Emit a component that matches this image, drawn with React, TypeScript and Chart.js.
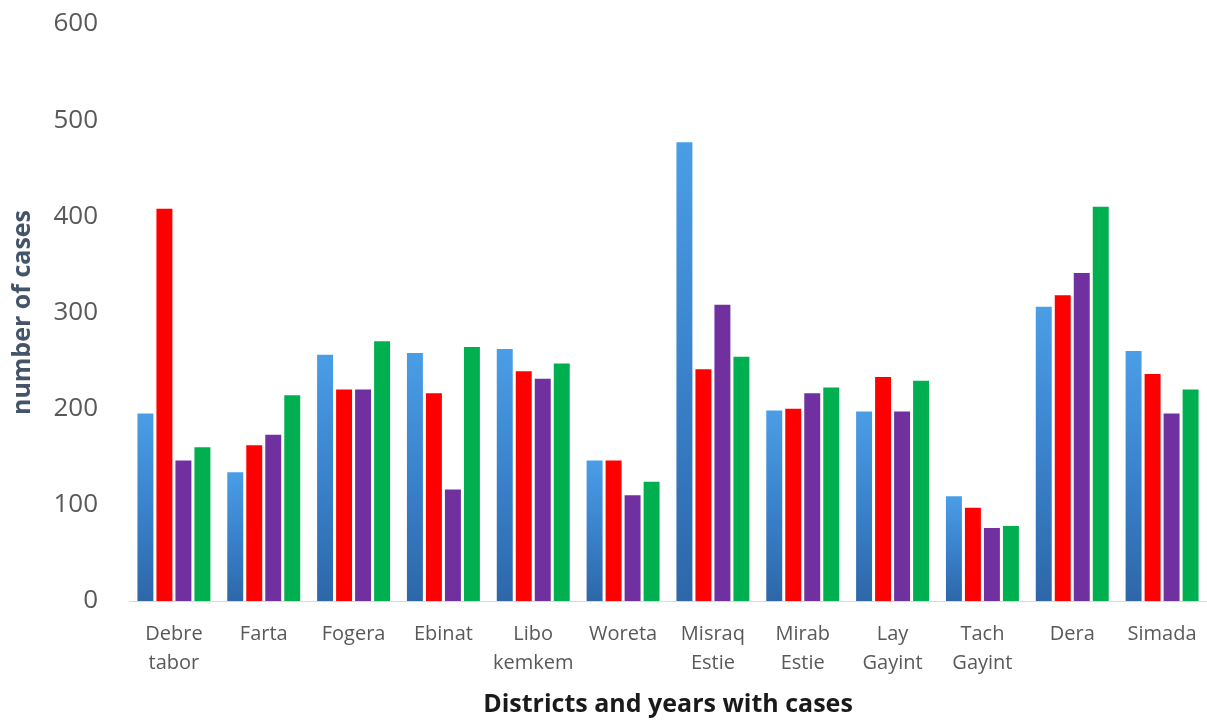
import React, { useEffect, useRef } from "react";
import { Chart, registerables } from "chart.js";

Chart.register(...registerables);

// District names (multi-word names wrap onto two lines)
const districts: string[][] = [
  ["Debre", "tabor"],
  ["Farta"],
  ["Fogera"],
  ["Ebinat"],
  ["Libo", "kemkem"],
  ["Woreta"],
  ["Misraq", "Estie"],
  ["Mirab", "Estie"],
  ["Lay", "Gayint"],
  ["Tach", "Gayint"],
  ["Dera"],
  ["Simada"],
];

// Cases per district, one series per year
const year1: number[] = [195, 134, 256, 258, 262, 146, 477, 198, 197, 109, 306, 260];
const year2: number[] = [408, 162, 220, 216, 239, 146, 241, 200, 233, 97, 318, 236];
const year3: number[] = [146, 173, 220, 116, 231, 110, 308, 216, 197, 76, 341, 195];
const year4: number[] = [160, 214, 270, 264, 247, 124, 254, 222, 229, 78, 410, 220];

const yTicks: number[] = [0, 100, 200, 300, 400, 500, 600];

const FONT = "'Open Sans', 'Noto Sans', sans-serif";

// Blue bars fade from a lighter top to a deeper base
function blueGradient(ctx: any) {
  const chart = ctx.chart;
  const area = chart.chartArea;
  const y = chart.scales?.y;
  if (!area || !y || ctx.raw === undefined) return "#3b85cf";
  const top = y.getPixelForValue(ctx.raw);
  const bottom = y.getPixelForValue(0);
  if (!isFinite(top) || !isFinite(bottom) || top === bottom) return "#3b85cf";
  const g = chart.ctx.createLinearGradient(0, top, 0, bottom);
  g.addColorStop(0, "#4a9ee6");
  g.addColorStop(0.5, "#3a82cc");
  g.addColorStop(1, "#2d67a8");
  return g;
}

export default function App() {
  const canvasRef = useRef<HTMLCanvasElement | null>(null);

  useEffect(() => {
    if (!canvasRef.current) return;
    const chart = new Chart(canvasRef.current, {
      type: "bar",
      data: {
        labels: districts,
        datasets: [
          { label: "Year 1", data: year1, backgroundColor: blueGradient },
          { label: "Year 2", data: year2, backgroundColor: "#ff0000" },
          { label: "Year 3", data: year3, backgroundColor: "#7030a0" },
          { label: "Year 4", data: year4, backgroundColor: "#00b050" },
        ],
      },
      options: {
        animation: false,
        responsive: true,
        maintainAspectRatio: false,
        layout: { padding: { top: 24, right: 0, left: 0, bottom: 0 } },
        datasets: {
          bar: { categoryPercentage: 0.846, barPercentage: 0.84 },
        },
        plugins: {
          legend: { display: false },
          tooltip: { enabled: false },
        },
        scales: {
          x: {
            grid: { display: false, drawTicks: false },
            border: { display: true, color: "#d9d9d9", width: 1 },
            ticks: {
              color: "#595959",
              font: { family: FONT, size: 20, lineHeight: 1.45 },
              padding: 19,
              maxRotation: 0,
              autoSkip: false,
            },
            title: {
              display: true,
              text: "Districts and years with cases",
              color: "#1a1a1a",
              font: { family: FONT, size: 25, weight: "bold" },
              padding: { top: 0, bottom: 2 },
            },
            afterFit: (scale: any) => {
              scale.height = 121;
              scale.paddingLeft = 0;
              scale.paddingRight = 0;
            },
          },
          y: {
            min: 0,
            max: 600,
            grid: { display: false, drawTicks: false },
            border: { display: false },
            afterBuildTicks: (scale: any) => {
              scale.ticks = yTicks.map((v) => ({ value: v }));
            },
            ticks: {
              color: "#595959",
              font: { family: FONT, size: 26 },
              padding: 31,
            },
            title: {
              display: true,
              text: "number of cases",
              color: "#44546a",
              font: { family: FONT, size: 25, weight: "bold" },
              padding: { top: 8, bottom: 0 },
            },
            afterFit: (scale: any) => {
              scale.width = 129;
              scale.paddingTop = 0;
              scale.paddingBottom = 0;
            },
          },
        },
      },
    });
    return () => chart.destroy();
  }, []);

  return (
    <div style={{ position: "fixed", left: 0, top: 0, width: 1207, height: 722, background: "#ffffff" }}>
      <canvas ref={canvasRef} />
    </div>
  );
}
